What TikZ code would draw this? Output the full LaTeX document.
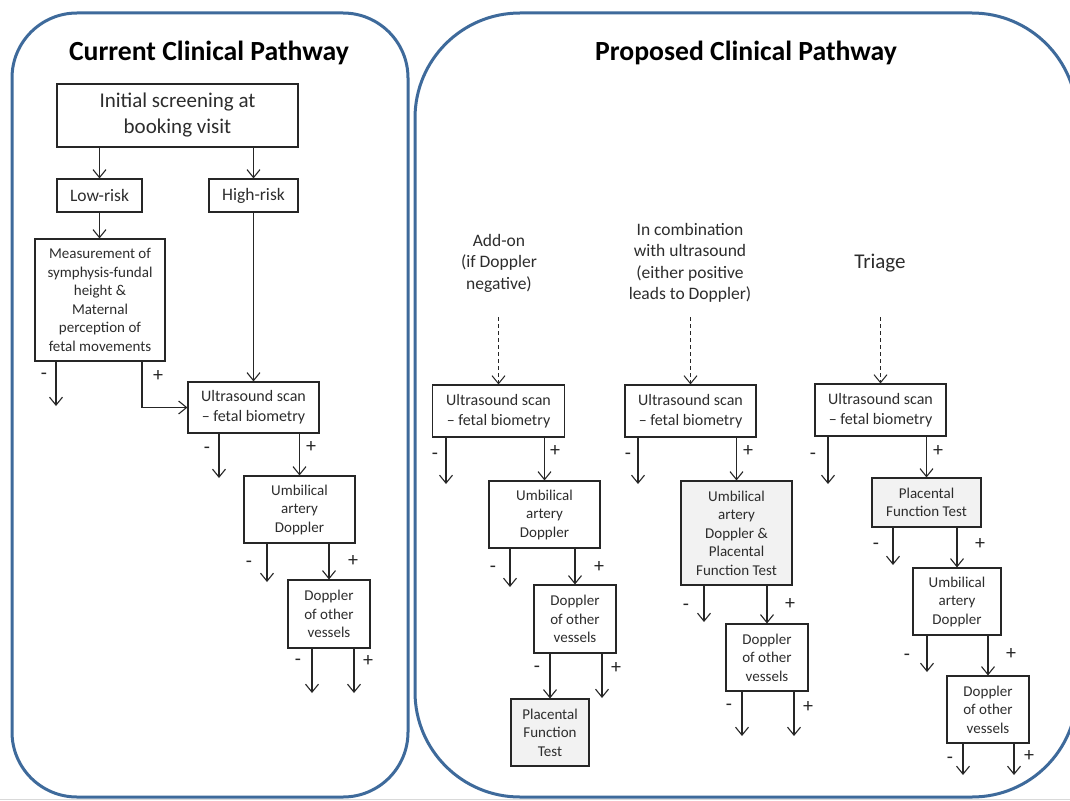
\documentclass[tikz,border=0pt]{standalone}
\usepackage{fontspec}
\setmainfont{Carlito}
\usetikzlibrary{arrows.meta}
\definecolor{panelblue}{RGB}{62,106,155}
\definecolor{boxtext}{RGB}{45,45,45}
\definecolor{greyfill}{RGB}{242,242,242}
\begin{document}
\begin{tikzpicture}[x=1pt,y=-1pt,
  panel/.style={draw=panelblue, line width=3pt},
  box/.style={draw=black!85, line width=1.1pt, inner sep=0pt, align=center, text=boxtext},
  shaded/.style={box, fill=greyfill},
  fsA/.style={font=\fontsize{15}{18.5}\selectfont},
  fsB/.style={font=\fontsize{16}{20}\selectfont},
  fsC/.style={font=\fontsize{17.5}{21.5}\selectfont},
  fsD/.style={font=\fontsize{21}{26}\selectfont},
  title/.style={font=\fontsize{27.7}{32}\bfseries\selectfont, anchor=base, inner sep=0pt},
  collabel/.style={fsC, align=center, text=boxtext, inner sep=0pt},
  arr/.style={draw=black!85, line width=1.1pt, -{Straight Barb[length=8pt,width=13pt]}},
  dasharr/.style={arr, line width=1pt, dash pattern=on 4pt off 3pt},
  plus/.style={font=\fontsize{20}{20}\selectfont, inner sep=0pt, text=black!85},
  minus/.style={plus, yshift=-2pt},
]
\useasboundingbox (0,0) rectangle (1070,800);
\fill[white] (0,0) rectangle (1070,800);

% panels
\draw[panel, rounded corners=65pt] (12,13) rectangle (408,797);
\draw[panel, rounded corners=105pt] (415,13) rectangle (1077,797);
\draw[gray!30, line width=1pt] (0,799.5) -- (1070,799.5);

% titles
\node[title] (t1) at (209,60) {Current Clinical Pathway};
\node[title] (t2) at (746,60) {Proposed Clinical Pathway};

% ---------------- current pathway ----------------
\node[box, fsD, minimum width=241pt, minimum height=63pt] (init) at (177.5,115.5) {Initial screening at\\booking visit};
\node[box, fsC, minimum width=85pt, minimum height=33pt] (low) at (99.5,195.5) {Low-risk};
\node[box, fsC, minimum width=89pt, minimum height=33pt] (high) at (253.5,195.5) {High-risk};
\node[box, fsA, minimum width=130pt, minimum height=122pt] (meas) at (100,300) {Measurement of\\symphysis-fundal\\height \&\\Maternal\\perception of\\fetal movements};
\node[box, fsB, minimum width=131pt, minimum height=51pt] (us0) at (253.5,407.5) {Ultrasound scan\\– fetal biometry};
\node[box, fsA, minimum width=111pt, minimum height=67pt] (uad0) at (299.5,509.5) {Umbilical\\artery\\Doppler};
\node[box, fsA, minimum width=82pt, minimum height=68pt] (dov0) at (329,614) {Doppler\\of other\\vessels};

\draw[arr] (init.south -| low.north) -- (low.north);
\draw[arr] (init.south -| high.north) -- (high.north);
\draw[arr] (low.south) -- (meas.north -| low.south);
\draw[arr] (high.south) -- (us0.north -| high.south);
\coordinate (mplus) at (142,408);
\coordinate (mminus) at (56,406);
\draw[arr] (meas.south -| mplus) |- (us0.west);
\draw[arr] (meas.south -| mminus) -- (mminus);
\coordinate (u0m) at (219,478);
\draw[arr] (us0.south -| u0m) -- (u0m);
\draw[arr] (us0.south -| uad0.north) -- (uad0.north);
\coordinate (a0m) at (267,582);
\draw[arr] (uad0.south -| a0m) -- (a0m);
\draw[arr] (uad0.south -| dov0.north) -- (dov0.north);
\coordinate (d0m) at (312,693);
\coordinate (d0p) at (354,693);
\draw[arr] (dov0.south -| d0m) -- (d0m);
\draw[arr] (dov0.south -| d0p) -- (d0p);

\node[minus] (lm1) at (44,374) {-};
\node[plus]  (lp1) at (158,376) {+};
\node[minus] (lm2) at (207,448) {-};
\node[plus]  (lp2) at (311,447) {+};
\node[minus] (lm3) at (249,562) {-};
\node[plus]  (lp3) at (353,561) {+};
\node[minus] (lm4) at (298,660) {-};
\node[plus]  (lp4) at (368,661) {+};

% ---------------- proposed: add-on ----------------
\node[collabel] (c1) at (499,263) {Add-on\\(if Doppler\\negative)};
\node[box, fsB, minimum width=132pt, minimum height=52pt] (us1) at (498.5,411) {Ultrasound scan\\– fetal biometry};
\node[box, fsA, minimum width=111pt, minimum height=67pt] (uad1) at (544.5,514.5) {Umbilical\\artery\\Doppler};
\node[box, fsA, minimum width=82pt, minimum height=68pt] (dov1) at (575,619) {Doppler\\of other\\vessels};
\node[shaded, fsA, minimum width=78pt, minimum height=67pt] (pft1) at (550,732.5) {Placental\\Function\\Test};

\coordinate (s1) at (498.5,317);
\draw[dasharr] (s1) -- (us1.north);
\coordinate (u1m) at (446,484);
\draw[arr] (us1.south -| u1m) -- (u1m);
\draw[arr] (us1.south -| uad1.north) -- (uad1.north);
\coordinate (a1m) at (510,587);
\draw[arr] (uad1.south -| a1m) -- (a1m);
\draw[arr] (uad1.south -| dov1.north) -- (dov1.north);
\draw[arr] (dov1.south -| pft1.north) -- (pft1.north);
\coordinate (d1p) at (602,698);
\draw[arr] (dov1.south -| d1p) -- (d1p);

\node[minus] (m11) at (435,454) {-};
\node[plus]  (p11) at (555,451) {+};
\node[minus] (m12) at (493,567) {-};
\node[plus]  (p12) at (599,567) {+};
\node[minus] (m13) at (537,667) {-};
\node[plus]  (p13) at (616,668) {+};

% ---------------- proposed: combination ----------------
\node[collabel] (c2) at (690,263) {In combination\\with ultrasound\\(either positive\\leads to Doppler)};
\node[box, fsB, minimum width=131pt, minimum height=52pt] (us2) at (690.5,411) {Ultrasound scan\\– fetal biometry};
\node[shaded, fsA, minimum width=111pt, minimum height=104pt] (uap2) at (736.5,533) {Umbilical\\artery\\Doppler \&\\Placental\\Function Test};
\node[box, fsA, minimum width=82pt, minimum height=67pt] (dov2) at (767,657.5) {Doppler\\of other\\vessels};

\coordinate (s2) at (690.5,317);
\draw[dasharr] (s2) -- (us2.north);
\coordinate (u2m) at (638,484);
\draw[arr] (us2.south -| u2m) -- (u2m);
\draw[arr] (us2.south -| uap2.north) -- (uap2.north);
\coordinate (a2m) at (704,622);
\draw[arr] (uap2.south -| a2m) -- (a2m);
\draw[arr] (uap2.south -| dov2.north) -- (dov2.north);
\coordinate (d2m) at (742,736);
\coordinate (d2p) at (794,736);
\draw[arr] (dov2.south -| d2m) -- (d2m);
\draw[arr] (dov2.south -| d2p) -- (d2p);

\node[minus] (m21) at (628,454) {-};
\node[plus]  (p21) at (748,451) {+};
\node[minus] (m22) at (686,605) {-};
\node[plus]  (p22) at (790,604) {+};
\node[minus] (m23) at (729,705) {-};
\node[plus]  (p23) at (808,707) {+};

% ---------------- proposed: triage ----------------
\node[collabel, font=\fontsize{21}{25}\selectfont] (c3) at (880,263) {Triage};
\node[box, fsB, minimum width=131pt, minimum height=52pt] (us3) at (880.5,410) {Ultrasound scan\\– fetal biometry};
\node[shaded, fsA, minimum width=109pt, minimum height=49pt] (pft3) at (926.5,502.5) {Placental\\Function Test};
\node[box, fsA, minimum width=88pt, minimum height=67pt] (uad3) at (957,601.5) {Umbilical\\artery\\Doppler};
\node[box, fsA, minimum width=82pt, minimum height=67pt] (dov3) at (988,709.5) {Doppler\\of other\\vessels};

\coordinate (s3) at (880.5,317);
\draw[dasharr] (s3) -- (us3.north);
\coordinate (u3m) at (828,484);
\draw[arr] (us3.south -| u3m) -- (u3m);
\draw[arr] (us3.south -| pft3.north) -- (pft3.north);
\coordinate (f3m) at (893,565);
\draw[arr] (pft3.south -| f3m) -- (f3m);
\draw[arr] (pft3.south -| uad3.north) -- (uad3.north);
\coordinate (a3m) at (927,672);
\draw[arr] (uad3.south -| a3m) -- (a3m);
\draw[arr] (uad3.south -| dov3.north) -- (dov3.north);
\coordinate (d3m) at (963,775);
\coordinate (d3p) at (1014,775);
\draw[arr] (dov3.south -| d3m) -- (d3m);
\draw[arr] (dov3.south -| d3p) -- (d3p);

\node[minus] (m31) at (813,454) {-};
\node[plus]  (p31) at (938,451) {+};
\node[minus] (m32) at (876,544) {-};
\node[plus]  (p32) at (980,544) {+};
\node[minus] (m33) at (907,655) {-};
\node[plus]  (p33) at (1011,654) {+};
\node[minus] (m34) at (950,758) {-};
\node[plus]  (p34) at (1029,756) {+};
\end{tikzpicture}
\end{document}
